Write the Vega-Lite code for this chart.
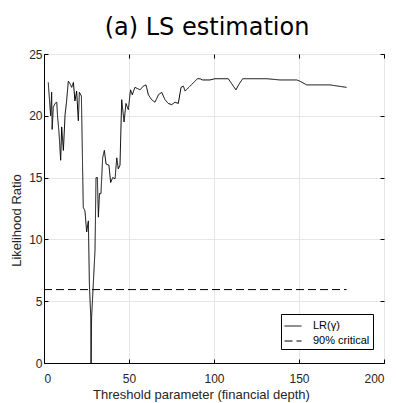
{
  "$schema": "https://vega.github.io/schema/vega-lite/v6.json",
  "autosize": "none",
  "width": 340,
  "height": 309,
  "padding": {"left": 44, "top": 54, "right": 12, "bottom": 40},
  "background": "white",
  "title": {"text": "(a) LS estimation", "fontSize": 24, "font": "DejaVu Sans", "fontWeight": "normal", "color": "black", "offset": 8, "anchor": "middle", "dx": -7},
  "config": {
    "view": {"stroke": "black", "strokeWidth": 1},
    "axis": {"labelFont": "Liberation Sans", "titleFont": "Liberation Sans", "labelFontSize": 12, "titleFontSize": 13, "titleFontWeight": "normal", "labelColor": "#262626", "titleColor": "#262626", "domainColor": "black", "tickColor": "black", "gridColor": "#e6e6e6", "tickSize": -4}
  },
  "data": {"values": [
    {"x": 2.5, "y": 22.7, "s": "LR(γ)"},
    {"x": 3.9, "y": 20.0, "s": "LR(γ)"},
    {"x": 4.5, "y": 21.9, "s": "LR(γ)"},
    {"x": 4.8, "y": 18.9, "s": "LR(γ)"},
    {"x": 5.5, "y": 20.7, "s": "LR(γ)"},
    {"x": 6.5, "y": 21.0, "s": "LR(γ)"},
    {"x": 7.5, "y": 21.1, "s": "LR(γ)"},
    {"x": 8.0, "y": 19.9, "s": "LR(γ)"},
    {"x": 8.8, "y": 18.7, "s": "LR(γ)"},
    {"x": 9.8, "y": 16.4, "s": "LR(γ)"},
    {"x": 10.4, "y": 19.1, "s": "LR(γ)"},
    {"x": 11.4, "y": 17.2, "s": "LR(γ)"},
    {"x": 12.4, "y": 20.1, "s": "LR(γ)"},
    {"x": 13.3, "y": 21.2, "s": "LR(γ)"},
    {"x": 14.3, "y": 22.8, "s": "LR(γ)"},
    {"x": 15.3, "y": 22.6, "s": "LR(γ)"},
    {"x": 16.3, "y": 22.3, "s": "LR(γ)"},
    {"x": 17.3, "y": 22.7, "s": "LR(γ)"},
    {"x": 18.2, "y": 21.2, "s": "LR(γ)"},
    {"x": 19.2, "y": 22.0, "s": "LR(γ)"},
    {"x": 20.2, "y": 19.6, "s": "LR(γ)"},
    {"x": 20.8, "y": 21.9, "s": "LR(γ)"},
    {"x": 22.0, "y": 21.6, "s": "LR(γ)"},
    {"x": 23.1, "y": 12.6, "s": "LR(γ)"},
    {"x": 24.1, "y": 12.3, "s": "LR(γ)"},
    {"x": 25.1, "y": 10.6, "s": "LR(γ)"},
    {"x": 26.1, "y": 11.5, "s": "LR(γ)"},
    {"x": 26.7, "y": 6.4, "s": "LR(γ)"},
    {"x": 27.5, "y": 3.7, "s": "LR(γ)"},
    {"x": 27.7, "y": 0.0, "s": "LR(γ)"},
    {"x": 28.0, "y": 3.7, "s": "LR(γ)"},
    {"x": 29.0, "y": 6.4, "s": "LR(γ)"},
    {"x": 30.0, "y": 9.1, "s": "LR(γ)"},
    {"x": 30.6, "y": 15.0, "s": "LR(γ)"},
    {"x": 31.4, "y": 15.0, "s": "LR(γ)"},
    {"x": 32.0, "y": 11.8, "s": "LR(γ)"},
    {"x": 32.6, "y": 13.7, "s": "LR(γ)"},
    {"x": 33.5, "y": 13.7, "s": "LR(γ)"},
    {"x": 34.5, "y": 16.6, "s": "LR(γ)"},
    {"x": 35.5, "y": 17.2, "s": "LR(γ)"},
    {"x": 36.5, "y": 16.1, "s": "LR(γ)"},
    {"x": 38.2, "y": 16.0, "s": "LR(γ)"},
    {"x": 39.2, "y": 14.6, "s": "LR(γ)"},
    {"x": 40.4, "y": 15.0, "s": "LR(γ)"},
    {"x": 41.8, "y": 14.9, "s": "LR(γ)"},
    {"x": 42.8, "y": 16.6, "s": "LR(γ)"},
    {"x": 43.7, "y": 15.7, "s": "LR(γ)"},
    {"x": 44.7, "y": 16.0, "s": "LR(γ)"},
    {"x": 45.7, "y": 21.3, "s": "LR(γ)"},
    {"x": 47.1, "y": 19.5, "s": "LR(γ)"},
    {"x": 48.2, "y": 21.0, "s": "LR(γ)"},
    {"x": 49.6, "y": 20.5, "s": "LR(γ)"},
    {"x": 50.9, "y": 22.1, "s": "LR(γ)"},
    {"x": 51.9, "y": 21.7, "s": "LR(γ)"},
    {"x": 53.5, "y": 22.3, "s": "LR(γ)"},
    {"x": 56.5, "y": 22.1, "s": "LR(γ)"},
    {"x": 58.4, "y": 22.4, "s": "LR(γ)"},
    {"x": 60.0, "y": 22.5, "s": "LR(γ)"},
    {"x": 61.4, "y": 21.7, "s": "LR(γ)"},
    {"x": 63.3, "y": 21.3, "s": "LR(γ)"},
    {"x": 65.3, "y": 21.1, "s": "LR(γ)"},
    {"x": 67.3, "y": 21.7, "s": "LR(γ)"},
    {"x": 69.2, "y": 21.9, "s": "LR(γ)"},
    {"x": 71.2, "y": 21.3, "s": "LR(γ)"},
    {"x": 73.1, "y": 21.0, "s": "LR(γ)"},
    {"x": 75.1, "y": 20.9, "s": "LR(γ)"},
    {"x": 77.1, "y": 21.1, "s": "LR(γ)"},
    {"x": 79.0, "y": 21.0, "s": "LR(γ)"},
    {"x": 80.6, "y": 22.3, "s": "LR(γ)"},
    {"x": 82.0, "y": 22.4, "s": "LR(γ)"},
    {"x": 83.0, "y": 22.0, "s": "LR(γ)"},
    {"x": 85.9, "y": 22.4, "s": "LR(γ)"},
    {"x": 88.8, "y": 22.8, "s": "LR(γ)"},
    {"x": 90.2, "y": 23.0, "s": "LR(γ)"},
    {"x": 91.8, "y": 23.0, "s": "LR(γ)"},
    {"x": 93.3, "y": 22.9, "s": "LR(γ)"},
    {"x": 95.3, "y": 22.9, "s": "LR(γ)"},
    {"x": 97.6, "y": 22.9, "s": "LR(γ)"},
    {"x": 100.6, "y": 23.0, "s": "LR(γ)"},
    {"x": 104.5, "y": 23.0, "s": "LR(γ)"},
    {"x": 108.4, "y": 23.0, "s": "LR(γ)"},
    {"x": 110.4, "y": 22.6, "s": "LR(γ)"},
    {"x": 112.9, "y": 22.1, "s": "LR(γ)"},
    {"x": 114.9, "y": 22.6, "s": "LR(γ)"},
    {"x": 116.9, "y": 23.0, "s": "LR(γ)"},
    {"x": 121.2, "y": 23.0, "s": "LR(γ)"},
    {"x": 131.0, "y": 23.0, "s": "LR(γ)"},
    {"x": 138.8, "y": 22.9, "s": "LR(γ)"},
    {"x": 148.6, "y": 22.9, "s": "LR(γ)"},
    {"x": 150.6, "y": 22.8, "s": "LR(γ)"},
    {"x": 154.5, "y": 22.5, "s": "LR(γ)"},
    {"x": 168.2, "y": 22.5, "s": "LR(γ)"},
    {"x": 178.0, "y": 22.3, "s": "LR(γ)"},
    {"x": 0, "y": 5.94, "s": "90% critical"},
    {"x": 178, "y": 5.94, "s": "90% critical"}
  ]},
  "layer": [
    {
      "mark": {"type": "line", "color": "black", "strokeWidth": 1, "clip": true},
      "encoding": {
        "x": {"field": "x", "type": "quantitative", "scale": {"domain": [0, 200], "nice": false}, "axis": {"values": [0, 50, 100, 150, 200], "title": "Threshold parameter (financial depth)", "labelPadding": 14, "titlePadding": 4, "titleX": 157, "grid": true}},
        "y": {"field": "y", "type": "quantitative", "scale": {"domain": [0, 25], "nice": false}, "axis": {"values": [0, 5, 10, 15, 20, 25], "title": "Likelihood Ratio", "labelPadding": 6, "titlePadding": 5, "titleY": 166, "grid": true}},
        "strokeDash": {"field": "s", "type": "nominal", "scale": {"domain": ["LR(γ)", "90% critical"], "range": [[1, 0], [8, 4]]},
          "legend": {"title": null, "orient": "none", "legendX": 237, "legendY": 260, "strokeColor": "black", "fillColor": "white", "padding": 3, "labelFont": "Liberation Sans", "labelFontSize": 11, "labelColor": "black", "labelOffset": 11, "symbolType": "stroke", "symbolSize": 289, "symbolStrokeColor": "black", "symbolStrokeWidth": 1, "rowPadding": 1, "cornerRadius": 0}},
        "detail": {"field": "s"}
      }
    },
    {
      "mark": {"type": "rule", "opacity": 0},
      "encoding": {
        "x": {"datum": 0, "type": "quantitative", "axis": {"orient": "top", "values": [0, 50, 100, 150, 200], "labels": false, "title": null, "grid": false, "domain": false}},
        "y": {"datum": 0, "type": "quantitative", "axis": {"orient": "right", "values": [0, 5, 10, 15, 20, 25], "labels": false, "title": null, "grid": false, "domain": false}}
      }
    }
  ],
  "resolve": {"axis": {"x": "independent", "y": "independent"}}
}
